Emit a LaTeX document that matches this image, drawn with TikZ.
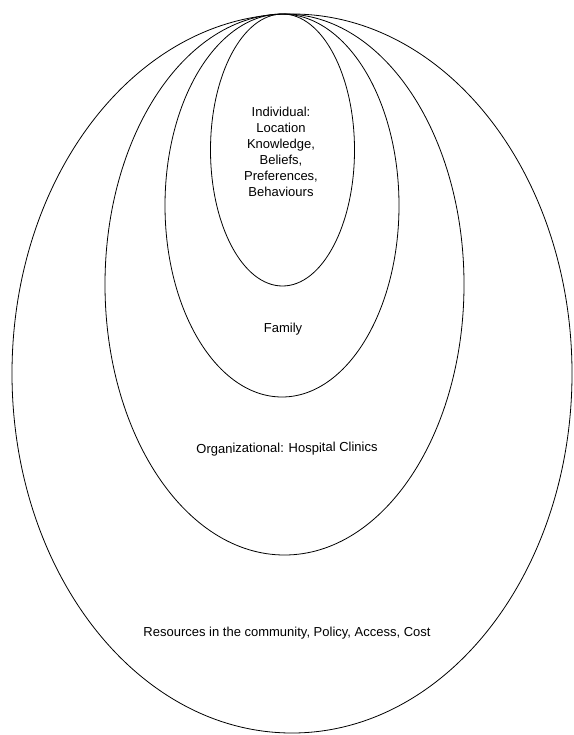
\documentclass[tikz,border=0pt]{standalone}
\usepackage{fontspec}
\setmainfont{Liberation Sans}
\begin{document}
\begin{tikzpicture}[x=1pt,y=-1pt,
  ring/.style={draw=black,line width=0.8pt},
  lbl/.style={font=\fontsize{13}{16}\selectfont,align=center,inner sep=0pt}]
\useasboundingbox (0,0) rectangle (573,735);
\draw[ring] (292,373.5) ellipse [x radius=280, y radius=359.5];
\draw[ring] (284.5,284.5) ellipse [x radius=179.5, y radius=270.5];
\draw[ring] (282,205.5) ellipse [x radius=117, y radius=191.5];
\draw[ring] (282.5,150) ellipse [x radius=72, y radius=136];
\node[lbl] (ind) at (281,152) {Individual:\\Location\\Knowledge,\\Beliefs,\\Preferences,\\Behaviours};
\node[lbl] (fam) at (283,329) {Family};
\node[lbl,rotate=0.6] (org) at (287,449) {Organizational: Hospital Clinics};
\node[lbl] (res) at (287,633) {Resources in the community, Policy, Access, Cost};
\end{tikzpicture}
\end{document}
